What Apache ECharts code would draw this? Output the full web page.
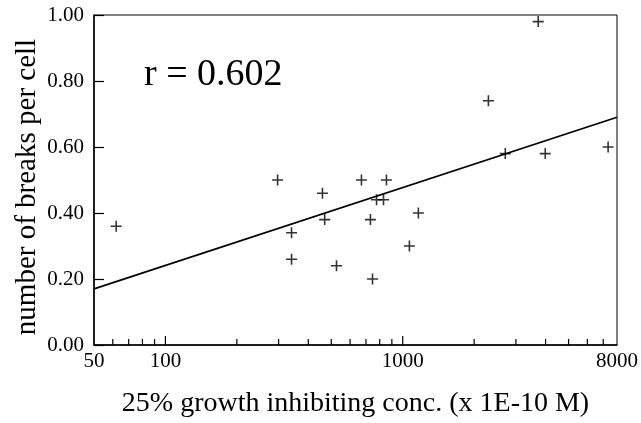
<!DOCTYPE html>
<html>
<head>
<meta charset="utf-8">
<script src="https://cdn.jsdelivr.net/npm/echarts@6/dist/echarts.min.js"></script>
<style>html,body{margin:0;padding:0;background:#fff;}#c{width:641px;height:423px;}</style>
</head>
<body>
<div id="c"></div>
<script>
// concentration (x 1E-10 M), breaks per cell
var concValues = [62, 297, 340, 340, 459, 469, 526, 670, 731, 746, 776, 830, 854, 1067, 1164, 2297, 2706, 3724, 3988, 7340];
var breaksValues = [0.36, 0.50, 0.34, 0.26, 0.46, 0.38, 0.24, 0.50, 0.38, 0.20, 0.44, 0.44, 0.50, 0.30, 0.40, 0.74, 0.58, 0.98, 0.58, 0.60];
var fitConc = [50, 8000];
var fitBreaks = [0.17, 0.69];
var xLabelValues = [50, 100, 1000, 8000];
var xMajorTicks = [100, 1000];
var xMinorTicks = [60, 70, 80, 90, 200, 300, 400, 500, 600, 700, 800, 900, 2000, 3000, 4000, 5000, 6000, 7000];
var rText = 'r = 0.602';
var xTitle = '25% growth inhibiting conc. (x 1E-10 M)';
var yTitle = 'number of breaks per cell';

var FONT = 'Liberation Serif';
var chart = echarts.init(document.getElementById('c'), null, {renderer: 'canvas'});
var pts = concValues.map(function (v, i) { return [v, breaksValues[i]]; });
var fit = fitConc.map(function (v, i) { return [v, fitBreaks[i]]; });
var tickData = xMajorTicks.concat(xMinorTicks).map(function (v) { return [v, 0]; });

chart.setOption({
  animation: false,
  backgroundColor: '#fff',
  grid: {left: 94, right: 23, top: 15, bottom: 76, show: true, borderColor: '#000', borderWidth: 1, backgroundColor: 'transparent'},
  xAxis: {
    type: 'log', logBase: 10, min: 50, max: 8000,
    name: xTitle, nameLocation: 'middle', nameGap: 45,
    nameTextStyle: {fontFamily: FONT, fontSize: 28, color: '#000'},
    axisLine: {show: true, lineStyle: {color: '#000', width: 1.5}},
    axisTick: {show: false},
    axisLabel: {show: true, customValues: xLabelValues, margin: 6, fontFamily: FONT, fontSize: 21, color: '#000',
      formatter: function (v) { return String(v); }},
    splitLine: {show: false}, minorTick: {show: false}
  },
  yAxis: {
    type: 'value', min: 0, max: 1, interval: 0.2,
    axisLine: {show: true, lineStyle: {color: '#000', width: 1.5}},
    axisTick: {show: true, inside: true, length: 10, lineStyle: {color: '#000', width: 1.2}},
    axisLabel: {margin: 10, padding: [5, 0, 0, 0], fontFamily: FONT, fontSize: 21, color: '#000',
      formatter: function (v) { return v.toFixed(2); }},
    splitLine: {show: false}
  },
  graphic: [{
    type: 'text', left: 144, top: 56,
    style: {text: rText, font: '38px "Liberation Serif"', fill: '#000'}
  }, {
    type: 'text', x: 27, y: 187, rotation: Math.PI / 2,
    style: {text: yTitle, font: '29px "Liberation Serif"', fill: '#000', align: 'center', verticalAlign: 'middle'}
  }],
  series: [{
    type: 'custom', data: tickData, clip: false, silent: true,
    encode: {x: 0, y: 1},
    renderItem: function (params, api) {
      var v = api.value(0);
      var p = api.coord([v, 0]);
      var len = xMajorTicks.indexOf(v) >= 0 ? 9 : 6;
      return {type: 'line', shape: {x1: p[0], y1: p[1], x2: p[0], y2: p[1] - len},
        style: {stroke: '#000', lineWidth: 1.2}};
    }
  }, {
    type: 'line', data: fit, symbol: 'none', silent: true,
    lineStyle: {color: '#000', width: 1.7}
  }, {
    type: 'scatter', data: pts, symbol: 'path://M0,5 L10,5 M5,0 L5,10', symbolSize: 11,
    itemStyle: {color: 'transparent', borderColor: '#000', borderWidth: 1.6}, silent: true
  }]
});
</script>
</body>
</html>
